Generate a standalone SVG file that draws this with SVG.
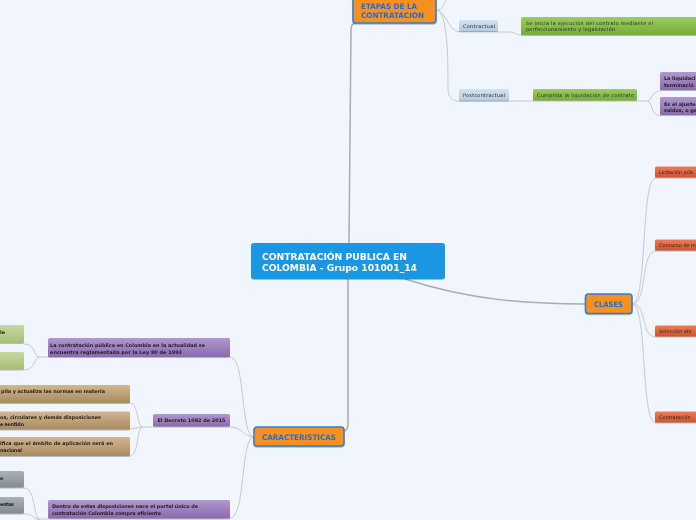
<svg xmlns="http://www.w3.org/2000/svg" width="696" height="520" viewBox="0 0 696 520">
<defs>
<linearGradient id="gBlue" x1="0" y1="0" x2="0" y2="1"><stop offset="0" stop-color="#d3e3f1"/><stop offset="1" stop-color="#b3cce2"/></linearGradient>
<linearGradient id="gGreen" x1="0" y1="0" x2="0" y2="1"><stop offset="0" stop-color="#9ccd5c"/><stop offset="1" stop-color="#76ad3a"/></linearGradient>
<linearGradient id="gPurple" x1="0" y1="0" x2="0" y2="1"><stop offset="0" stop-color="#b197d0"/><stop offset="1" stop-color="#8a6aac"/></linearGradient>
<linearGradient id="gRed" x1="0" y1="0" x2="0" y2="1"><stop offset="0" stop-color="#ee7c56"/><stop offset="1" stop-color="#d0522e"/></linearGradient>
<linearGradient id="gTan" x1="0" y1="0" x2="0" y2="1"><stop offset="0" stop-color="#d2b68f"/><stop offset="1" stop-color="#a88a60"/></linearGradient>
<linearGradient id="gLGreen" x1="0" y1="0" x2="0" y2="1"><stop offset="0" stop-color="#c6d99e"/><stop offset="1" stop-color="#a6bf78"/></linearGradient>
<linearGradient id="gGray" x1="0" y1="0" x2="0" y2="1"><stop offset="0" stop-color="#abb1b7"/><stop offset="1" stop-color="#838a91"/></linearGradient>
</defs>
<style>
.main{fill:#f7901e;stroke:#2e7ed3;stroke-width:1.5}
.mt{font-family:"DejaVu Sans",Verdana,sans-serif;font-weight:bold;font-size:7.6px;fill:#1c6fd8}
.rt{font-family:"DejaVu Sans",Verdana,sans-serif;font-weight:bold;font-size:9.4px;fill:#ffffff}
.t{font-family:"DejaVu Sans",Verdana,sans-serif;font-size:4.9px;fill:#262626}
.tb{font-family:"DejaVu Sans",Verdana,sans-serif;font-size:4.9px;fill:#1e1e1e;font-weight:bold}
.c{fill:none;stroke:#c9c9ce;stroke-width:1}
.cr{fill:none;stroke:#ababb0;stroke-width:1.5}
.sh{filter:drop-shadow(0 1px 0.6px rgba(0,0,0,0.25))}
</style>
<rect width="696" height="520" fill="#f1f5fd"/>

<g id="connectors">
<path class="cr" d="M349,243 L351,30 Q351,24 355,23"/>
<path class="cr" d="M348,279 L348,424 Q348,430 344,431"/>
<path class="cr" d="M405,279 C470,300 525,304 586,304"/>
<path class="c" d="M436,10 C444,10 444,2 448,-4"/>
<path class="c" d="M436,10 C446,10 448,32 460,32 L510,32 C516,32 514,35 522,35"/>
<path class="c" d="M436,10 C448,10 448,60 448,88 C448,98 452,101 460,101 L534,101"/>
<path class="c" d="M637,101 L647,101 C653,101 650,91 661,91"/>
<path class="c" d="M647,101 C653,101 650,116 661,116"/>
<path class="c" d="M632,304 C648,304 640,178 656,178"/>
<path class="c" d="M632,304 C648,304 640,251 656,251"/>
<path class="c" d="M632,304 C648,304 640,337 656,337"/>
<path class="c" d="M632,304 C648,304 640,423 656,423"/>
<path class="c" d="M254,437 C240,437 246,357 230,357"/>
<path class="c" d="M254,437 C244,437 242,427 230,427"/>
<path class="c" d="M254,437 C240,437 246,518 230,518"/>
<path class="c" d="M48,357 L40,357 C33,357 36,344 24,344"/>
<path class="c" d="M40,357 C33,357 36,370 24,370"/>
<path class="c" d="M153,427 L143,427 C136,427 139,403 130,403"/>
<path class="c" d="M143,427 L130,429"/>
<path class="c" d="M143,427 C136,427 139,456 130,456"/>
<path class="c" d="M48,519 L40,519 C33,519 36,488 24,488"/>
<path class="c" d="M40,519 C33,519 34,514 24,514"/>
<path class="c" d="M40,519 L30,522"/>
</g>

<g id="root" class="sh">
<rect x="251" y="243" width="194" height="36" rx="3" fill="#1a96e2"/>
<text class="rt" x="262" y="260" textLength="145" lengthAdjust="spacingAndGlyphs">CONTRATACIÓN PUBLICA EN</text>
<text class="rt" x="262" y="271" textLength="155" lengthAdjust="spacingAndGlyphs">COLOMBIA - Grupo 101001_14</text>
</g>

<g id="etapas" class="sh">
<rect class="main" x="353" y="-6" width="83" height="29" rx="3"/>
<text class="mt" x="361" y="9" textLength="56" lengthAdjust="spacingAndGlyphs">ETAPAS DE LA</text>
<text class="mt" x="361" y="17.5" textLength="63" lengthAdjust="spacingAndGlyphs">CONTRATACION</text>
</g>

<g id="contractual" class="sh">
<rect x="459" y="20" width="39" height="11" rx="1.5" fill="url(#gBlue)"/>
<text class="t" x="463" y="27.5" textLength="32">Contractual</text>
</g>
<g id="inicia" class="sh">
<rect x="521" y="17" width="185" height="18" rx="1.5" fill="url(#gGreen)"/>
<text class="t" x="526" y="25" textLength="127">Se inicia la ejecución del contrato mediante el</text>
<text class="t" x="526" y="31" textLength="89">perfeccionamiento y legalización</text>
</g>

<g id="postcontractual" class="sh">
<rect x="459" y="89" width="50" height="11.5" rx="1.5" fill="url(#gBlue)"/>
<text class="t" x="463" y="96.8" textLength="42">Postcontractual</text>
</g>
<g id="cumplida" class="sh">
<rect x="533" y="89" width="104" height="11.5" rx="1.5" fill="url(#gGreen)"/>
<text class="t" x="537" y="96.8" textLength="97">Cumplida la liquidación de contrato</text>
</g>
<g id="liquidacion" class="sh">
<rect x="660" y="72" width="45" height="18" rx="1.5" fill="url(#gPurple)"/>
<text class="tb" x="664" y="80">La liquidaci</text>
<text class="tb" x="664" y="86.5">terminació</text>
</g>
<g id="ajuste" class="sh">
<rect x="660" y="97" width="45" height="18" rx="1.5" fill="url(#gPurple)"/>
<text class="tb" x="664" y="105.5">Es el ajuste</text>
<text class="tb" x="664" y="112">saldos, o ge</text>
</g>

<g id="clases" class="sh">
<rect class="main" x="585.5" y="294" width="46.5" height="19.5" rx="3"/>
<text class="mt" x="594" y="307" textLength="29" lengthAdjust="spacingAndGlyphs">CLASES</text>
</g>
<g id="licitacion" class="sh">
<rect x="655" y="166.5" width="50" height="11" rx="1.5" fill="url(#gRed)"/>
<text class="t" x="659" y="174">Licitación púb</text>
</g>
<g id="concurso" class="sh">
<rect x="655" y="239.5" width="50" height="11" rx="1.5" fill="url(#gRed)"/>
<text class="t" x="659" y="247">Concurso de m</text>
</g>
<g id="seleccion" class="sh">
<rect x="655" y="325.5" width="50" height="11" rx="1.5" fill="url(#gRed)"/>
<text class="t" x="659" y="333">Selección abr</text>
</g>
<g id="contratacion" class="sh">
<rect x="655" y="411.5" width="50" height="11" rx="1.5" fill="url(#gRed)"/>
<text class="t" x="659" y="419">Contratación</text>
</g>

<g id="caracteristicas" class="sh">
<rect class="main" x="254" y="427" width="90" height="19" rx="3"/>
<text class="mt" x="262" y="440" textLength="74" lengthAdjust="spacingAndGlyphs">CARACTERISTICAS</text>
</g>

<g id="ley80" class="sh">
<rect x="48" y="338" width="182" height="19" rx="1.5" fill="url(#gPurple)"/>
<text class="tb" x="50" y="347" textLength="155">La contratación pública en Colombia en la actualidad se</text>
<text class="tb" x="50" y="353.5" textLength="132">encuentra reglamentada por la Ley 80 de 1993</text>
</g>
<g id="verde1" class="sh">
<rect x="-6" y="325" width="30" height="18" rx="1.5" fill="url(#gLGreen)"/>
<text class="tb" x="0" y="334">le</text>
</g>
<g id="verde2" class="sh">
<rect x="-6" y="352" width="30" height="17.5" rx="1.5" fill="url(#gLGreen)"/>
</g>

<g id="decreto" class="sh">
<rect x="153" y="414" width="77" height="12.5" rx="1.5" fill="url(#gPurple)"/>
<text class="tb" x="157.5" y="422" textLength="68">El Decreto 1082 de 2015</text>
</g>
<g id="tan1" class="sh">
<rect x="-6" y="385" width="136" height="18" rx="1.5" fill="url(#gTan)"/>
<text class="tb" x="1" y="393" textLength="104">pila y actualiza las normas en materia</text>
</g>
<g id="tan2" class="sh">
<rect x="-6" y="411.5" width="136" height="18" rx="1.5" fill="url(#gTan)"/>
<text class="tb" x="0" y="419" textLength="101">os, circulares y demás disposiciones</text>
<text class="tb" x="0" y="425.5" textLength="24">e sentido</text>
</g>
<g id="tan3" class="sh">
<rect x="-6" y="437" width="136" height="19" rx="1.5" fill="url(#gTan)"/>
<text class="tb" x="0" y="445" textLength="113">ifica que el ámbito de aplicación será en</text>
<text class="tb" x="0" y="451.5" textLength="22">nacional</text>
</g>

<g id="dentro" class="sh">
<rect x="48" y="500" width="182" height="18.5" rx="1.5" fill="url(#gPurple)"/>
<text class="tb" x="52" y="508" textLength="146">Dentro de estas disposiciones nace el portal único de</text>
<text class="tb" x="52" y="514.5" textLength="109">contratación Colombia compra eficiente</text>
</g>
<g id="gris1" class="sh">
<rect x="-6" y="471" width="30" height="16.5" rx="1.5" fill="url(#gGray)"/>
<text class="tb" x="0" y="479.5">e</text>
</g>
<g id="gris2" class="sh">
<rect x="-6" y="497" width="30" height="16.5" rx="1.5" fill="url(#gGray)"/>
<text class="tb" x="0" y="506" textLength="14">entas</text>
</g>
</svg>
